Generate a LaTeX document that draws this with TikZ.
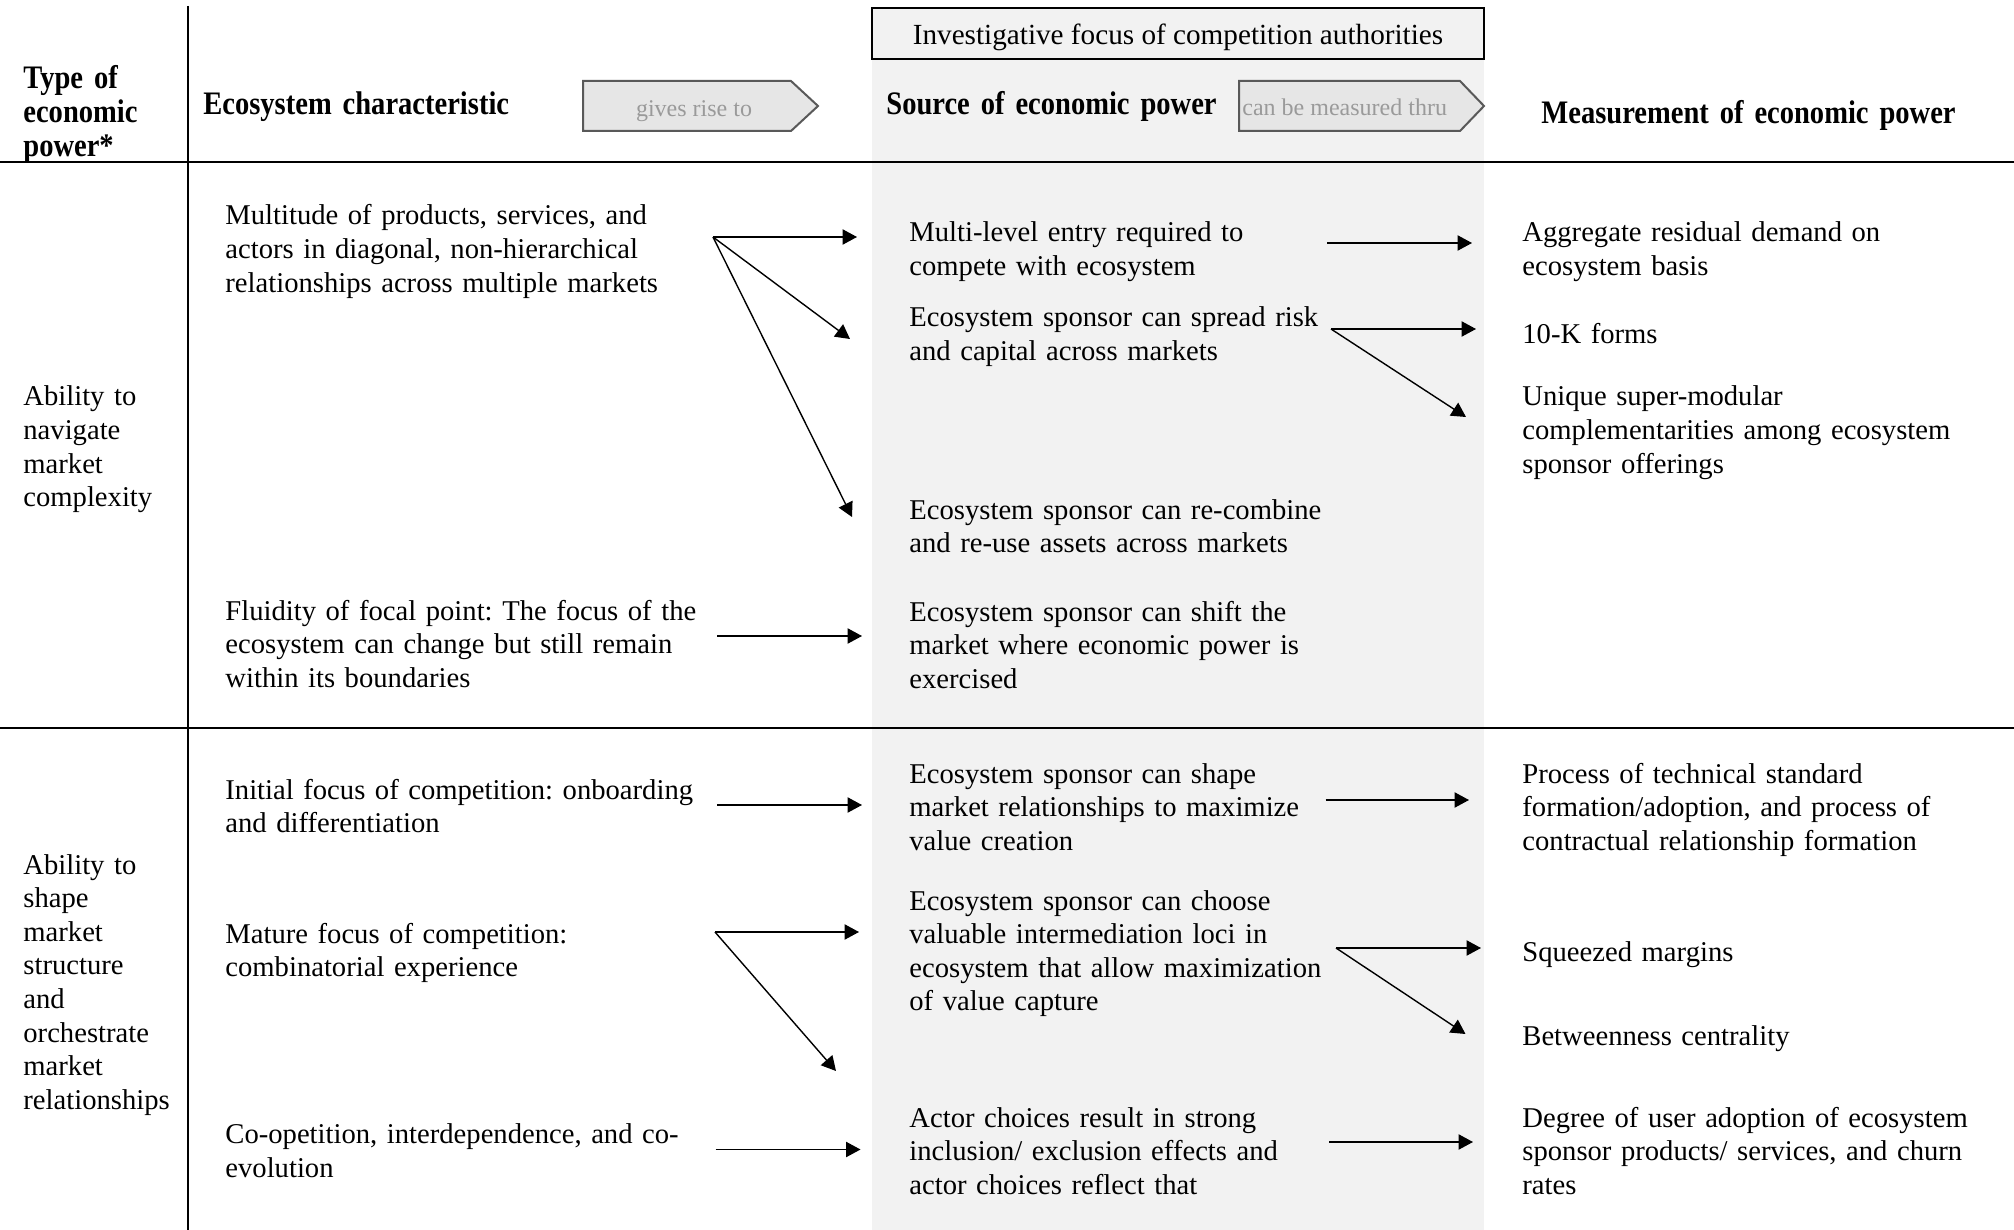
\documentclass[tikz,border=0pt]{standalone}
\usepackage{fontspec}
\setmainfont{Liberation Serif}
\newfontfamily\hdfamily[FakeStretch=0.87]{Liberation Serif}
\usetikzlibrary{arrows.meta}
\definecolor{colgray}{HTML}{F2F2F2}
\definecolor{sigfill}{HTML}{E6E6E6}
\definecolor{sigdraw}{HTML}{595959}
\definecolor{sigtext}{HTML}{9A9A9A}
\frenchspacing
\newcommand\bodyf{\fontsize{14.32}{16.8}\selectfont\parindent=0pt\frenchspacing}
\newcommand\focusf{\fontsize{14.6}{16.8}\selectfont\frenchspacing}
\newcommand\headf{\hdfamily\bfseries\fontsize{16.4}{16.8}\selectfont\parindent=0pt\frenchspacing}
\begin{document}
\begin{tikzpicture}[x=0.5pt,y=-0.5pt,
  txt/.style={font=\bodyf,anchor=base west,inner sep=0pt,align=left,text width=270pt},
  hd/.style={font=\headf,anchor=base west,inner sep=0pt,align=left,text width=270pt},
  sigbox/.style={fill=sigfill,draw=sigdraw,line width=1pt},
  sigtxt/.style={font=\fontsize{12}{14}\selectfont,text=sigtext,inner sep=0pt,anchor=base},
  conn/.style={line width=0.7pt,-{Triangle[length=7.2pt,width=7.6pt]}}]
\useasboundingbox (0,0) rectangle (2014,1230);
% shaded column
\fill[colgray] (872,59) rectangle (1484,1230);
% focus box
\node[draw=black,fill=colgray,line width=1pt,minimum width=306pt,minimum height=25.5pt,inner sep=0pt,text height=14pt,text depth=3.2pt,font=\focusf] (focus) at (1178,33.5) {Investigative focus of competition authorities};
% rules
\draw[line width=1pt] (187.5,6) -- (187.5,1230);
\draw[line width=1.2pt] (0,162) -- (2014,162);
\draw[line width=1pt] (0,728) -- (2014,728);
% signal arrows
\draw[sigbox] (583,81) -- (791,81) -- (818,106) -- (791,131) -- (583,131) -- cycle;
\node[sigtxt] (gives) at (694,117) {gives rise to};
\draw[sigbox] (1239,81) -- (1460,81) -- (1484,106) -- (1460,131) -- (1239,131) -- cycle;
\node[sigtxt,anchor=base west] (measured) at (1242,116) {can be measured thru};
% headers
\node[hd] (h1) at (23,89) {Type of\\economic\\power*};
\node[hd] (h2) at (203,114.5) {Ecosystem characteristic};
\node[hd] (h3) at (886,114.5) {Source of economic power};
\node[hd] (h4) at (1541,123.5) {Measurement of economic power};
% column 1
\node[txt] (t1a) at (23,406) {Ability to\\navigate\\market\\complexity};
\node[txt] (t1b) at (23,874) {Ability to\\shape\\market\\structure\\and\\orchestrate\\market\\relationships};
% column 2
\node[txt] (c2a) at (225,225) {Multitude of products, services, and\\actors in diagonal, non-hierarchical\\relationships across multiple markets};
\node[txt] (c2b) at (225,620) {Fluidity of focal point: The focus of the\\ecosystem can change but still remain\\within its boundaries};
\node[txt] (c2c) at (225,799) {Initial focus of competition: onboarding\\and differentiation};
\node[txt] (c2d) at (225,943) {Mature focus of competition:\\combinatorial experience};
\node[txt] (c2e) at (225,1143.5) {Co-opetition, interdependence, and co-\\evolution};
% column 3
\node[txt] (c3a) at (909,242) {Multi-level entry required to\\compete with ecosystem};
\node[txt] (c3b) at (909,327) {Ecosystem sponsor can spread risk\\and capital across markets};
\node[txt] (c3c) at (909,519) {Ecosystem sponsor can re-combine\\and re-use assets across markets};
\node[txt] (c3d) at (909,621) {Ecosystem sponsor can shift the\\market where economic power is\\exercised};
\node[txt] (c3e) at (909,783) {Ecosystem sponsor can shape\\market relationships to maximize\\value creation};
\node[txt] (c3f) at (909,910) {Ecosystem sponsor can choose\\valuable intermediation loci in\\ecosystem that allow maximization\\of value capture};
\node[txt] (c3g) at (909,1127) {Actor choices result in strong\\inclusion/ exclusion effects and\\actor choices reflect that};
% column 4
\node[txt] (c4a) at (1522,242) {Aggregate residual demand on\\ecosystem basis};
\node[txt] (c4b) at (1522,343.5) {10-K forms};
\node[txt] (c4c) at (1522,406) {Unique super-modular\\complementarities among ecosystem\\sponsor offerings};
\node[txt] (c4d) at (1522,783) {Process of technical standard\\formation/adoption, and process of\\contractual relationship formation};
\node[txt] (c4e) at (1522,961) {Squeezed margins};
\node[txt] (c4f) at (1522,1045) {Betweenness centrality};
\node[txt] (c4g) at (1522,1127) {Degree of user adoption of ecosystem\\sponsor products/ services, and churn\\rates};
% connector coordinates
\coordinate (s1) at (713,237);
\coordinate (e1a) at (857,237);
\coordinate (e1b) at (850,339);
\coordinate (e1c) at (852,517);
\coordinate (s2) at (1327,243);
\coordinate (e2) at (1472,243);
\coordinate (s3) at (1331,329);
\coordinate (e3a) at (1476,329);
\coordinate (e3b) at (1466,417);
\coordinate (s4) at (717,636);
\coordinate (e4) at (862,636);
\coordinate (s5) at (717,805);
\coordinate (e5) at (862,805);
\coordinate (s6) at (1325.5,800);
\coordinate (e6) at (1469,800);
\coordinate (s7) at (715,932);
\coordinate (e7a) at (859,932);
\coordinate (e7b) at (836,1071);
\coordinate (s8) at (1336,948);
\coordinate (e8a) at (1481,948);
\coordinate (e8b) at (1465.5,1034);
\coordinate (s9) at (715.5,1149.5);
\coordinate (e9) at (860.5,1149.5);
\coordinate (s10) at (1329,1142);
\coordinate (e10) at (1473,1142);
% connectors
\draw[conn] (s1) -- (e1a);
\draw[conn] (s1) -- (e1b);
\draw[conn] (s1) -- (e1c);
\draw[conn] (s2) -- (e2);
\draw[conn] (s3) -- (e3a);
\draw[conn] (s3) -- (e3b);
\draw[conn] (s4) -- (e4);
\draw[conn] (s5) -- (e5);
\draw[conn] (s6) -- (e6);
\draw[conn] (s7) -- (e7a);
\draw[conn] (s7) -- (e7b);
\draw[conn] (s8) -- (e8a);
\draw[conn] (s8) -- (e8b);
\draw[conn] (s9) -- (e9);
\draw[conn] (s10) -- (e10);
\end{tikzpicture}
\end{document}
